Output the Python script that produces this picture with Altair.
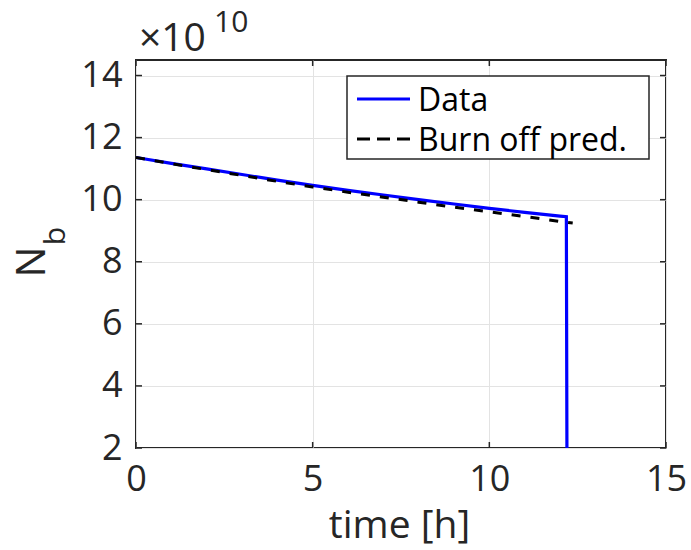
import altair as alt
import pandas as pd

# Measured beam intensity (x 1e10) vs time [h]
t_data = [0, 1, 2, 3, 4, 5, 6, 7, 8, 9, 10, 11, 12, 12.18, 12.2]
n_data = [11.36, 11.17, 10.99, 10.81, 10.63, 10.46, 10.30, 10.15, 10.00, 9.86, 9.72, 9.59, 9.47, 9.45, 0.0]

# Burn-off prediction (x 1e10)
t_pred = [0, 1, 2, 3, 4, 5, 6, 7, 8, 9, 10, 11, 12, 12.36]
n_pred = [11.36, 11.16, 10.97, 10.78, 10.59, 10.41, 10.24, 10.08, 9.92, 9.76, 9.61, 9.46, 9.30, 9.25]

series_names = ["Data", "Burn off pred."]
x_ticks = [0, 5, 10, 15]
y_ticks = [2, 4, 6, 8, 10, 12, 14]

FONT = "Open Sans"
TXT = "#262626"
W, H = 530, 388

xscale = alt.Scale(domain=[0, 15], nice=False, zero=False)
yscale = alt.Scale(domain=[2, 14.5], nice=False, zero=False)


def X():
    return alt.X("t:Q", scale=xscale,
                 axis=alt.Axis(values=x_ticks, title="time [h]", titleY=89, labelFlush=False,
                               titleBaseline="alphabetic", titleX=263, titleAlign="center"))


def Y():
    return alt.Y("n:Q", scale=yscale, axis=alt.Axis(values=y_ticks, title=None, labelFlush=False))


df_data = pd.DataFrame({"t": t_data, "n": n_data})
df_pred = pd.DataFrame({"t": t_pred, "n": n_pred})

data_line = alt.Chart(df_data).mark_line(color="#0000ff", strokeWidth=3.2, clip=True).encode(
    x=X(), y=Y(), order="t:Q")
pred_line = alt.Chart(df_pred).mark_line(color="black", strokeWidth=3, strokeDash=[9, 10], clip=True).encode(
    x=X(), y=Y(), order="t:Q")

# inward ticks (MATLAB box style)
dfx = pd.DataFrame({"t": x_ticks})
dfy = pd.DataFrame({"n": y_ticks})
tick_style = dict(color=TXT, strokeWidth=1.5)
xt_bottom = alt.Chart(dfx).mark_rule(**tick_style).encode(x=X(), y=alt.value(H), y2=alt.value(H - 6))
xt_top = alt.Chart(dfx).mark_rule(**tick_style).encode(x=X(), y=alt.value(0), y2=alt.value(6))
yt_left = alt.Chart(dfy).mark_rule(**tick_style).encode(y=Y(), x=alt.value(0), x2=alt.value(6))
yt_right = alt.Chart(dfy).mark_rule(**tick_style).encode(y=Y(), x=alt.value(W), x2=alt.value(W - 6))

# Legend (drawn manually to match MATLAB style)
one = pd.DataFrame({"a": [0]})
leg_box = alt.Chart(one).mark_rect(fill="white", stroke=TXT, strokeWidth=1.5).encode(
    x=alt.value(211), x2=alt.value(513), y=alt.value(16), y2=alt.value(99))
leg_l1 = alt.Chart(one).mark_rule(color="#0000ff", strokeWidth=3).encode(
    x=alt.value(221), x2=alt.value(274), y=alt.value(39))
leg_l2 = alt.Chart(one).mark_rule(color="black", strokeWidth=3, strokeDash=[13, 7]).encode(
    x=alt.value(221), x2=alt.value(274), y=alt.value(79))
leg_t1 = alt.Chart(one).mark_text(text=series_names[0], font=FONT, fontSize=32, color="black",
                                  align="left", baseline="alphabetic").encode(
    x=alt.value(282), y=alt.value(51))
leg_t2 = alt.Chart(one).mark_text(text=series_names[1], font=FONT, fontSize=32, color="black",
                                  align="left", baseline="alphabetic").encode(
    x=alt.value(282), y=alt.value(91))

# exponent annotation  x10^10
exp_base = alt.Chart(one).mark_text(text="×10", font=FONT, fontSize=39, color=TXT,
                                    align="left", baseline="alphabetic").encode(
    x=alt.value(3), y=alt.value(-9))
exp_sup = alt.Chart(one).mark_text(text="10", font=FONT, fontSize=30, color=TXT,
                                   align="left", baseline="alphabetic").encode(
    x=alt.value(78), y=alt.value(-28))

# y-axis title N_b
ylab_N = alt.Chart(one).mark_text(text="N", font=FONT, fontSize=41, color=TXT, angle=270,
                                  align="center", baseline="alphabetic").encode(
    x=alt.value(-91), y=alt.value(202))
ylab_b = alt.Chart(one).mark_text(text="b", font=FONT, fontSize=30, color=TXT, angle=270,
                                  align="center", baseline="alphabetic").encode(
    x=alt.value(-71), y=alt.value(176))

chart = alt.layer(
    data_line, pred_line, xt_bottom, xt_top, yt_left, yt_right,
    leg_box, leg_l1, leg_l2, leg_t1, leg_t2,
    exp_base, exp_sup, ylab_N, ylab_b,
).properties(
    width=W, height=H,
    autosize=alt.AutoSizeParams(type="none"),
    padding={"left": 136, "top": 60, "right": 25, "bottom": 102},
    background="white",
).configure_view(
    stroke=TXT, strokeWidth=2
).configure_axis(
    domain=False, ticks=False, grid=True, gridColor="#e3e3e3", gridWidth=1,
    labelFont=FONT, labelFontSize=36, labelColor=TXT, labelPadding=14,
    titleFont=FONT, titleFontSize=39, titleColor=TXT, titleFontWeight="normal",
)

chart.save("out.html", embed_options={"renderer": "svg", "actions": False})
